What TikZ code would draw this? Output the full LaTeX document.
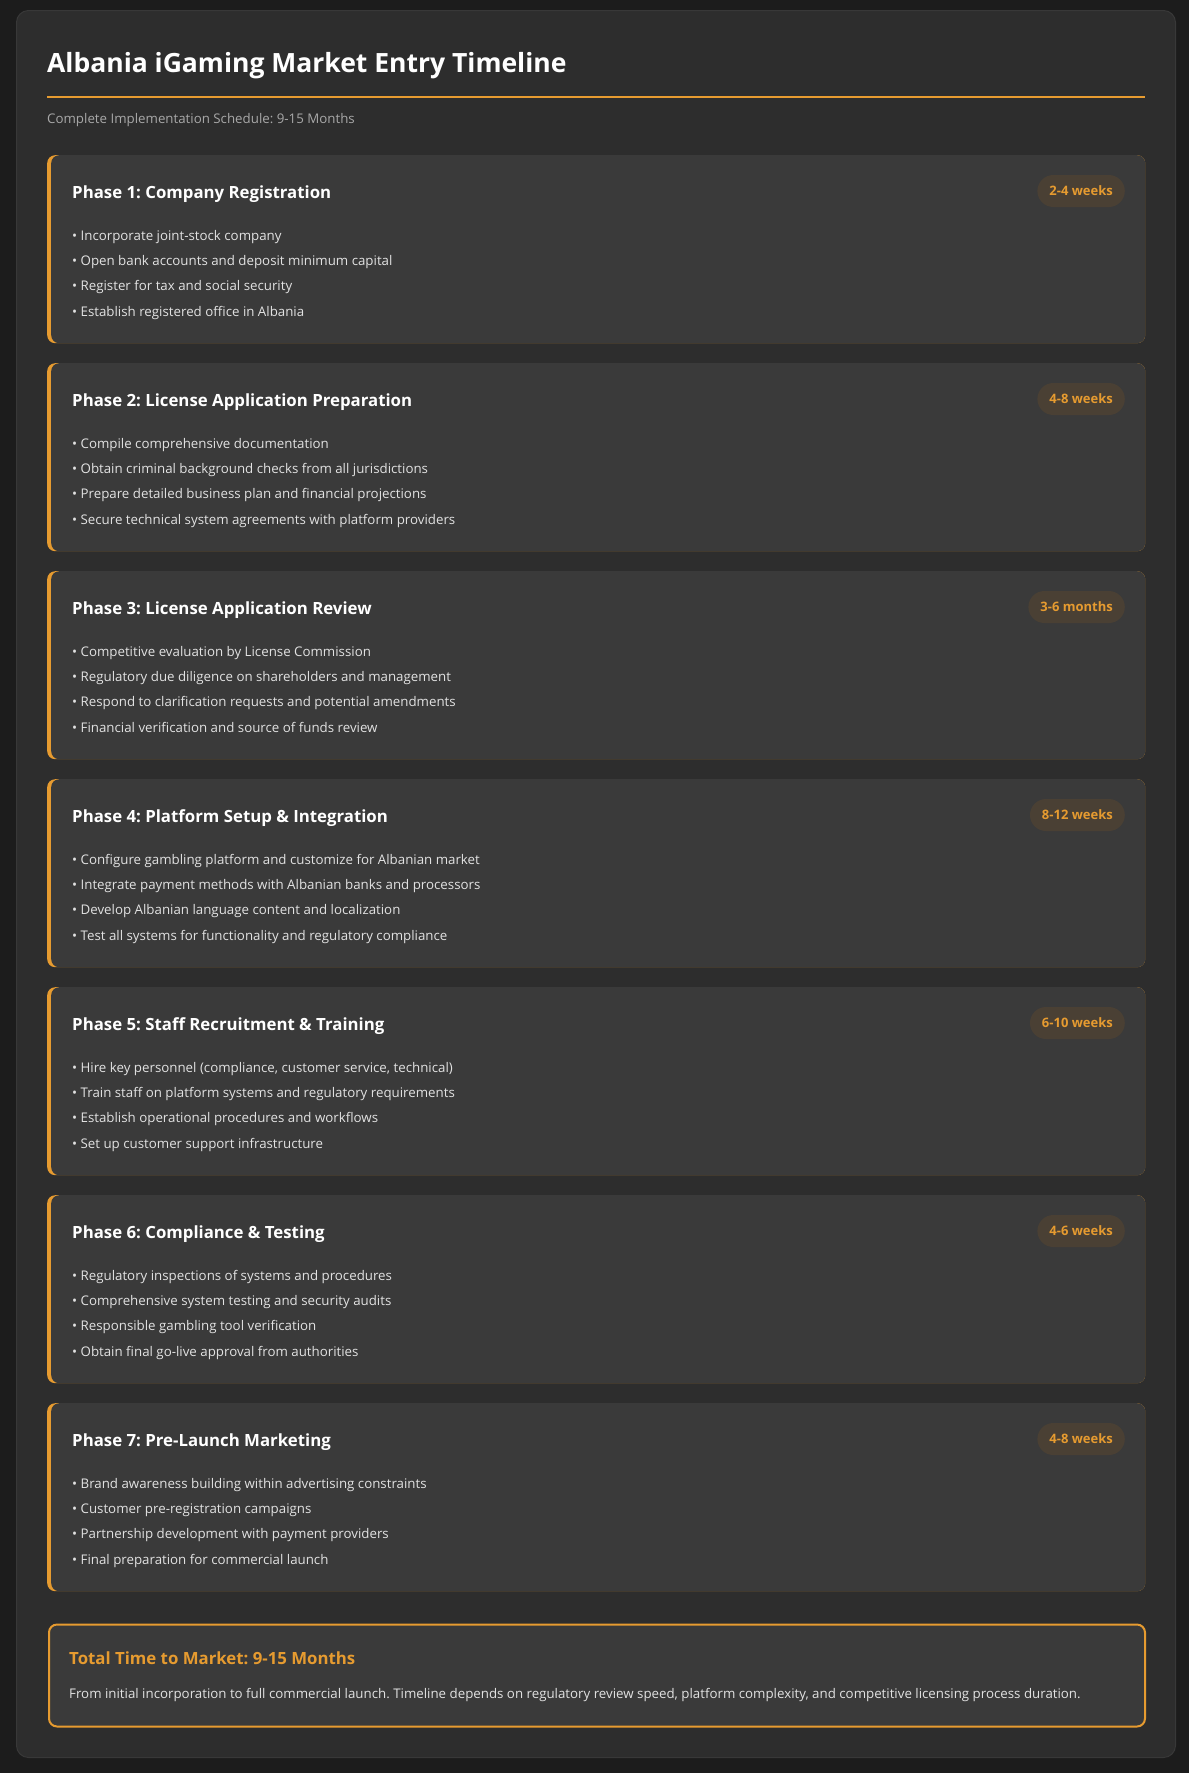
\documentclass[tikz,border=0pt]{standalone}
\usepackage{fontspec}
\setmainfont{Open Sans}
\frenchspacing
\definecolor{BG}{HTML}{1C1C1C}
\definecolor{PANEL}{HTML}{2D2D2D}
\definecolor{PANELB}{HTML}{383838}
\definecolor{CARDC}{HTML}{3A3A3A}
\definecolor{ORG}{HTML}{E69B30}
\definecolor{BADGEC}{HTML}{4A4034}
\definecolor{TXT}{HTML}{E2E2E2}
\definecolor{SUB}{HTML}{A8A8A8}
\tikzset{
    CONT/.style ={rectangle,anchor=north west,minimum width=1159pt,minimum height=1747pt,rounded corners=12pt,fill=PANEL,draw=PANELB,line width=1pt},
    CO/.style ={rectangle,anchor=north west,minimum width=1098pt,minimum height=188pt,rounded corners=8pt,fill=ORG,inner sep=0pt},
    CI/.style ={rectangle,anchor=north west,minimum width=1094pt,minimum height=188pt,rounded corners=8pt,fill=CARDC,inner sep=0pt},
    PT/.style ={anchor=base west,inner sep=0pt,text=white,font=\fontsize{16.8pt}{20pt}\selectfont\bfseries},
    BU/.style ={anchor=base west,inner sep=0pt,text=TXT,font=\fontsize{13.3pt}{16pt}\selectfont},
    BA/.style ={rectangle,anchor=east,rounded corners=16pt,inner xsep=12pt,inner ysep=0pt,minimum height=32pt,fill=BADGEC,text=ORG,font=\fontsize{13pt}{16pt}\selectfont\bfseries}}
\begin{document}
\begin{tikzpicture}[x=1pt,y=-1pt]
        \fill[BG] (0,0) rectangle (1189,1773);
        \useasboundingbox (0,0) rectangle (1189,1773);
        \node[CONT] (box) at (16,10){};
        \node[anchor=base west,inner sep=0pt,text=white,font=\fontsize{26.5pt}{32pt}\selectfont\bfseries] (title) at (47,72){Albania iGaming Market Entry Timeline};
        \draw[ORG,line width=2.5pt] (47,97) -- (1145,97);
        \node[anchor=base west,inner sep=0pt,text=SUB,font=\fontsize{13.3pt}{16pt}\selectfont] (sub) at (47,123){Complete Implementation Schedule: 9-15 Months};
        % phase 1
        \node[CO] (c1) at (47,155){};
        \node[CI] (k1) at (51,155){};
        \node[PT] (t1) at (72,198.5){Phase 1: Company Registration};
        \node[BA] (d1) at (1125,191){2-4 weeks};
        \node[BU] (b11) at (72,240.3){• Incorporate joint-stock company};
        \node[BU] (b12) at (72,265.6){• Open bank accounts and deposit minimum capital};
        \node[BU] (b13) at (72,290.9){• Register for tax and social security};
        \node[BU] (b14) at (72,316.2){• Establish registered office in Albania};
        % phase 2
        \node[CO] (c2) at (47,363){};
        \node[CI] (k2) at (51,363){};
        \node[PT] (t2) at (72,406.5){Phase 2: License Application Preparation};
        \node[BA] (d2) at (1125,399){4-8 weeks};
        \node[BU] (b21) at (72,448.3){• Compile comprehensive documentation};
        \node[BU] (b22) at (72,473.6){• Obtain criminal background checks from all jurisdictions};
        \node[BU] (b23) at (72,498.9){• Prepare detailed business plan and financial projections};
        \node[BU] (b24) at (72,524.2){• Secure technical system agreements with platform providers};
        % phase 3
        \node[CO] (c3) at (47,571){};
        \node[CI] (k3) at (51,571){};
        \node[PT] (t3) at (72,614.5){Phase 3: License Application Review};
        \node[BA] (d3) at (1125,607){3-6 months};
        \node[BU] (b31) at (72,656.3){• Competitive evaluation by License Commission};
        \node[BU] (b32) at (72,681.6){• Regulatory due diligence on shareholders and management};
        \node[BU] (b33) at (72,706.9){• Respond to clarification requests and potential amendments};
        \node[BU] (b34) at (72,732.2){• Financial verification and source of funds review};
        % phase 4
        \node[CO] (c4) at (47,779){};
        \node[CI] (k4) at (51,779){};
        \node[PT] (t4) at (72,822.5){Phase 4: Platform Setup \& Integration};
        \node[BA] (d4) at (1125,815){8-12 weeks};
        \node[BU] (b41) at (72,864.3){• Configure gambling platform and customize for Albanian market};
        \node[BU] (b42) at (72,889.6){• Integrate payment methods with Albanian banks and processors};
        \node[BU] (b43) at (72,914.9){• Develop Albanian language content and localization};
        \node[BU] (b44) at (72,940.2){• Test all systems for functionality and regulatory compliance};
        % phase 5
        \node[CO] (c5) at (47,987){};
        \node[CI] (k5) at (51,987){};
        \node[PT] (t5) at (72,1030.5){Phase 5: Staff Recruitment \& Training};
        \node[BA] (d5) at (1125,1023){6-10 weeks};
        \node[BU] (b51) at (72,1072.3){• Hire key personnel (compliance, customer service, technical)};
        \node[BU] (b52) at (72,1097.6){• Train staff on platform systems and regulatory requirements};
        \node[BU] (b53) at (72,1122.9){• Establish operational procedures and workflows};
        \node[BU] (b54) at (72,1148.2){• Set up customer support infrastructure};
        % phase 6
        \node[CO] (c6) at (47,1195){};
        \node[CI] (k6) at (51,1195){};
        \node[PT] (t6) at (72,1238.5){Phase 6: Compliance \& Testing};
        \node[BA] (d6) at (1125,1231){4-6 weeks};
        \node[BU] (b61) at (72,1280.3){• Regulatory inspections of systems and procedures};
        \node[BU] (b62) at (72,1305.6){• Comprehensive system testing and security audits};
        \node[BU] (b63) at (72,1330.9){• Responsible gambling tool verification};
        \node[BU] (b64) at (72,1356.2){• Obtain final go-live approval from authorities};
        % phase 7
        \node[CO] (c7) at (47,1403){};
        \node[CI] (k7) at (51,1403){};
        \node[PT] (t7) at (72,1446.5){Phase 7: Pre-Launch Marketing};
        \node[BA] (d7) at (1125,1439){4-8 weeks};
        \node[BU] (b71) at (72,1488.3){• Brand awareness building within advertising constraints};
        \node[BU] (b72) at (72,1513.6){• Customer pre-registration campaigns};
        \node[BU] (b73) at (72,1538.9){• Partnership development with payment providers};
        \node[BU] (b74) at (72,1564.2){• Final preparation for commercial launch};
        % total
        \node[rectangle,anchor=north west,minimum width=1096pt,minimum height=102pt,rounded corners=8pt,fill=CARDC,draw=ORG,line width=2pt] (tot) at (48,1623.5){};
        \node[PT,text=ORG] (tt) at (69,1664){Total Time to Market: 9-15 Months};
        \node[BU] (tx) at (69,1698.3){From initial incorporation to full commercial launch. Timeline depends on regulatory review speed, platform complexity, and competitive licensing process duration.};
    \end{tikzpicture}
\end{document}
